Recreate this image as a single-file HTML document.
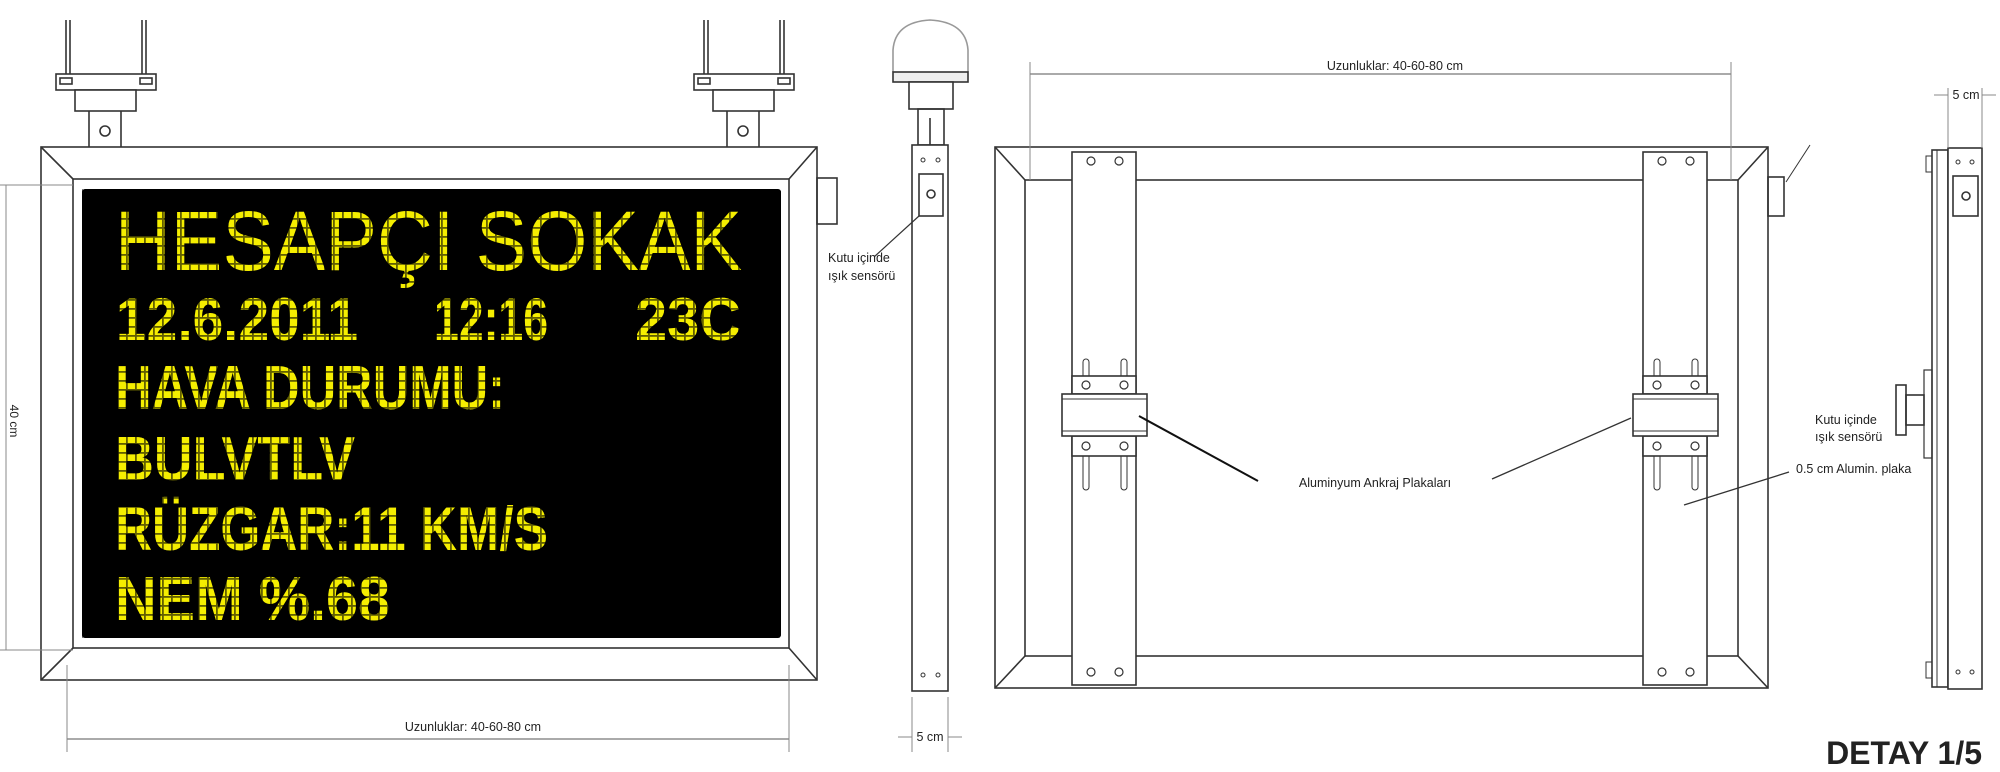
<!DOCTYPE html>
<html><head><meta charset="utf-8"><style>
html,body{margin:0;padding:0;background:#fff;}
svg{display:block;}
text{font-family:"Liberation Sans",sans-serif;}
</style></head><body>
<svg width="2000" height="772" viewBox="0 0 2000 772" xmlns="http://www.w3.org/2000/svg">
<defs>
<pattern id="grid" width="9" height="9" patternUnits="userSpaceOnUse" x="0" y="2">
<rect x="0" y="0" width="9" height="1.8" fill="#000"/>
<rect x="0" y="0" width="1.8" height="9" fill="#000"/>
</pattern>
</defs>
<g fill="none" stroke="#333" stroke-width="1.6">
<g id="mount">
<line x1="66" y1="20" x2="66" y2="74"/><line x1="70" y1="20" x2="70" y2="74"/>
<line x1="142" y1="20" x2="142" y2="74"/><line x1="146" y1="20" x2="146" y2="74"/>
<rect x="56" y="74" width="100" height="16" fill="#fff"/>
<rect x="60" y="78" width="12" height="6"/><rect x="140" y="78" width="12" height="6"/>
<rect x="75" y="90" width="61" height="21" fill="#fff"/>
<path d="M89 111 L89 148 L121 148 L121 111"/>
<circle cx="105" cy="131" r="5"/>
</g>
<use href="#mount" x="638"/>
<rect x="41" y="147" width="776" height="533" fill="#fff"/>
<rect x="73" y="179" width="716" height="469"/>
<line x1="41" y1="147" x2="73" y2="179"/><line x1="817" y1="147" x2="789" y2="179"/>
<line x1="41" y1="680" x2="73" y2="648"/><line x1="817" y1="680" x2="789" y2="648"/>
<rect x="817" y="178" width="20" height="46"/>
<line x1="6" y1="185" x2="6" y2="650" stroke="#888" stroke-width="1"/>
<line x1="0" y1="185" x2="73" y2="185" stroke="#888" stroke-width="1"/>
<line x1="0" y1="650" x2="73" y2="650" stroke="#888" stroke-width="1"/>
<line x1="67" y1="739" x2="789" y2="739" stroke="#555" stroke-width="1"/>
<line x1="67" y1="665" x2="67" y2="752" stroke="#888" stroke-width="1"/>
<line x1="789" y1="665" x2="789" y2="752" stroke="#888" stroke-width="1"/>
<path d="M893 72 L893 50 Q895 22 930 20 Q966 22 968 50 L968 72" stroke="#999"/>
<rect x="893" y="72" width="75" height="10" fill="#eee"/>
<rect x="909" y="82" width="44" height="27" fill="#fff"/>
<rect x="918" y="109" width="26" height="36"/>
<line x1="930" y1="118" x2="930" y2="145"/>
<rect x="912" y="145" width="36" height="546" fill="#fff"/>
<rect x="919" y="174" width="24" height="42"/>
<circle cx="931" cy="194" r="4"/>
<circle cx="923" cy="160" r="2" stroke-width="1"/><circle cx="938" cy="160" r="2" stroke-width="1"/>
<circle cx="923" cy="675" r="2" stroke-width="1"/><circle cx="938" cy="675" r="2" stroke-width="1"/>
<line x1="919" y1="216" x2="874" y2="257" stroke-width="1.2"/>
<line x1="912" y1="697" x2="912" y2="752" stroke="#888" stroke-width="1"/>
<line x1="948" y1="697" x2="948" y2="752" stroke="#888" stroke-width="1"/>
<line x1="898" y1="737" x2="912" y2="737" stroke="#888" stroke-width="1"/>
<line x1="948" y1="737" x2="962" y2="737" stroke="#888" stroke-width="1"/>
<rect x="995" y="147" width="773" height="541" fill="#fff"/>
<rect x="1025" y="180" width="713" height="476"/>
<line x1="995" y1="147" x2="1025" y2="180"/><line x1="1768" y1="147" x2="1738" y2="180"/>
<line x1="995" y1="688" x2="1025" y2="656"/><line x1="1768" y1="688" x2="1738" y2="656"/>
<rect x="1768" y="177" width="16" height="39"/>
<line x1="1786" y1="182" x2="1810" y2="145" stroke-width="1"/>
<g id="plate">
<rect x="1072" y="152" width="64" height="533" fill="#fff"/>
<circle cx="1091" cy="161" r="4" stroke-width="1.2"/><circle cx="1119" cy="161" r="4" stroke-width="1.2"/>
<circle cx="1091" cy="672" r="4" stroke-width="1.2"/><circle cx="1119" cy="672" r="4" stroke-width="1.2"/>
<rect x="1083" y="359" width="6" height="32" rx="3" stroke-width="1"/><rect x="1121" y="359" width="6" height="32" rx="3" stroke-width="1"/>
<rect x="1083" y="440" width="6" height="50" rx="3" stroke-width="1"/><rect x="1121" y="440" width="6" height="50" rx="3" stroke-width="1"/>
<rect x="1072" y="376" width="64" height="18" fill="#fff"/>
<rect x="1072" y="436" width="64" height="20" fill="#fff"/>
<circle cx="1086" cy="385" r="4" stroke-width="1.2"/><circle cx="1124" cy="385" r="4" stroke-width="1.2"/>
<circle cx="1086" cy="446" r="4" stroke-width="1.2"/><circle cx="1124" cy="446" r="4" stroke-width="1.2"/>
<rect x="1062" y="394" width="85" height="42" fill="#fff"/>
<line x1="1062" y1="399" x2="1147" y2="399" stroke-width="1"/>
<line x1="1062" y1="431" x2="1147" y2="431" stroke-width="1"/>
</g>
<use href="#plate" x="571"/>
<line x1="1139" y1="416" x2="1258" y2="481" stroke="#111" stroke-width="2"/>
<line x1="1631" y1="418" x2="1492" y2="479" stroke-width="1.3"/>
<line x1="1789" y1="472" x2="1684" y2="505" stroke-width="1.3"/>
<line x1="1030" y1="74" x2="1731" y2="74" stroke="#555" stroke-width="1"/>
<line x1="1030" y1="62" x2="1030" y2="180" stroke="#888" stroke-width="1"/>
<line x1="1731" y1="62" x2="1731" y2="180" stroke="#888" stroke-width="1"/>
<rect x="1932" y="150" width="16" height="537" fill="#fff"/>
<line x1="1937" y1="150" x2="1937" y2="687" stroke-width="1"/>
<rect x="1926" y="156" width="6" height="16" stroke-width="1"/>
<rect x="1926" y="662" width="6" height="16" stroke-width="1"/>
<rect x="1924" y="370" width="8" height="88" stroke-width="1.2"/>
<rect x="1896" y="385" width="10" height="50" fill="#fff"/>
<rect x="1906" y="395" width="18" height="30"/>
<rect x="1948" y="148" width="34" height="541" fill="#fff"/>
<rect x="1953" y="176" width="25" height="40"/>
<circle cx="1966" cy="196" r="4"/>
<circle cx="1958" cy="162" r="2" stroke-width="1"/><circle cx="1972" cy="162" r="2" stroke-width="1"/>
<circle cx="1958" cy="672" r="2" stroke-width="1"/><circle cx="1972" cy="672" r="2" stroke-width="1"/>
<line x1="1948" y1="88" x2="1948" y2="148" stroke="#888" stroke-width="1"/>
<line x1="1982" y1="88" x2="1982" y2="148" stroke="#888" stroke-width="1"/>
<line x1="1934" y1="95" x2="1948" y2="95" stroke="#888" stroke-width="1"/>
<line x1="1982" y1="95" x2="1996" y2="95" stroke="#888" stroke-width="1"/>
</g>
<rect x="82" y="189" width="699" height="449" rx="3" fill="#000"/>
<g fill="#f5ee00" font-family="Liberation Mono, monospace">
<text x="115" y="270" font-size="84" textLength="627" lengthAdjust="spacingAndGlyphs">HESAPÇI SOKAK</text>
<text x="116" y="340" font-size="60" font-weight="bold" textLength="242" lengthAdjust="spacingAndGlyphs">12.6.2011</text>
<text x="434" y="340" font-size="60" font-weight="bold" textLength="114" lengthAdjust="spacingAndGlyphs">12:16</text>
<text x="635" y="340" font-size="60" font-weight="bold" textLength="106" lengthAdjust="spacingAndGlyphs">23C</text>
<text x="115" y="409" font-size="62" font-weight="bold" textLength="390" lengthAdjust="spacingAndGlyphs">HAVA DURUMU:</text>
<text x="115" y="480" font-size="62" font-weight="bold" textLength="240" lengthAdjust="spacingAndGlyphs">BULVTLV</text>
<text x="115" y="550" font-size="62" font-weight="bold" textLength="433" lengthAdjust="spacingAndGlyphs">RÜZGAR:11 KM/S</text>
<text x="115" y="620" font-size="62" font-weight="bold" textLength="275" lengthAdjust="spacingAndGlyphs">NEM %.68</text>
</g>
<rect x="82" y="189" width="699" height="449" fill="url(#grid)" opacity="0.6"/>
<g fill="#222" font-size="12.5">
<text x="473" y="731" text-anchor="middle">Uzunluklar: 40-60-80 cm</text>
<text x="930" y="741" text-anchor="middle">5 cm</text>
<text x="828" y="262">Kutu içinde</text>
<text x="828" y="280">ışık sensörü</text>
<text x="1395" y="70" text-anchor="middle">Uzunluklar: 40-60-80 cm</text>
<text x="1375" y="487" text-anchor="middle">Aluminyum Ankraj Plakaları</text>
<text x="1796" y="473">0.5 cm Alumin. plaka</text>
<text x="1815" y="424">Kutu içinde</text>
<text x="1815" y="441">ışık sensörü</text>
<text x="1966" y="99" text-anchor="middle">5 cm</text>
<text x="10" y="421" text-anchor="middle" transform="rotate(90 10 421)" font-size="12">40 cm</text>
</g>
<text x="1982" y="764" text-anchor="end" font-size="32" font-weight="bold" fill="#222">DETAY 1/5</text>
</svg>
</body></html>
